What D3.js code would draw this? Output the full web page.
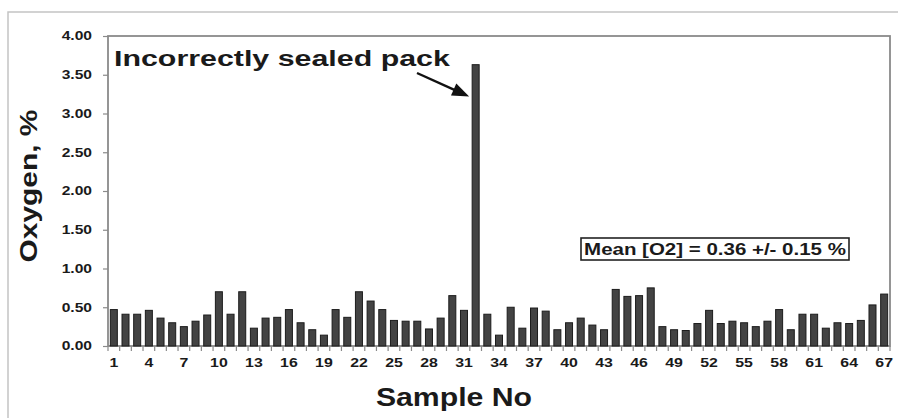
<!DOCTYPE html>
<html>
<head>
<meta charset="utf-8">
<script src="https://cdn.jsdelivr.net/npm/d3@7"></script>
<style>
  html, body { margin: 0; padding: 0; background: #fff; }
  svg { display: block; }
  text { font-family: "Liberation Sans", Arial, Helvetica, sans-serif; font-weight: bold; fill: #1a1a1a; }
</style>
</head>
<body>
<svg id="chart" width="898" height="418"></svg>
<script>
// Oxygen content of each sampled pack, in %
const samples = d3.range(1, 68);
const oxygen = [
  0.47, 0.41, 0.41, 0.46, 0.36, 0.30, 0.25, 0.32, 0.40, 0.70,
  0.41, 0.70, 0.23, 0.36, 0.37, 0.47, 0.30, 0.21, 0.14, 0.47,
  0.37, 0.70, 0.58, 0.47, 0.33, 0.32, 0.32, 0.22, 0.36, 0.65,
  0.46, 3.63, 0.41, 0.14, 0.50, 0.23, 0.49, 0.45, 0.21, 0.30,
  0.36, 0.27, 0.21, 0.73, 0.64, 0.65, 0.75, 0.25, 0.21, 0.20,
  0.29, 0.46, 0.29, 0.32, 0.30, 0.25, 0.32, 0.47, 0.21, 0.41,
  0.41, 0.23, 0.30, 0.29, 0.33, 0.53, 0.67
];
const yTicks = [0, 0.5, 1, 1.5, 2, 2.5, 3, 3.5, 4];
const xTickLabels = d3.range(1, 68, 3);
const annotation = "Incorrectly sealed pack";
const meanText = "Mean [O2] = 0.36 +/- 0.15 %";
const outlier = 32;

const svg = d3.select("#chart");
const plotLeft = 108, plotRight = 890, plotTop = 36, plotBottom = 346;

// stretch a text element horizontally by a width factor
function widen(sel, factor) {
  sel.each(function () {
    const w = this.getComputedTextLength();
    d3.select(this).attr("textLength", w * factor).attr("lengthAdjust", "spacingAndGlyphs");
  });
}

svg.append("rect").attr("width", 898).attr("height", 418).attr("fill", "#fff");

// outer chart frame
svg.append("path")
  .attr("d", "M8,418V12H898")
  .attr("fill", "none").attr("stroke", "#c4c4c4").attr("stroke-width", 1.5);

const y = d3.scaleLinear().domain([0, 4]).range([plotBottom, plotTop]);
const x = d3.scaleBand().domain(samples).range([plotLeft, plotRight])
  .paddingInner(0.4).paddingOuter(0.2);
const edge = d3.scaleLinear().domain([0, samples.length]).range([plotLeft, plotRight]);

// plot border
svg.append("rect")
  .attr("x", plotLeft).attr("y", plotTop)
  .attr("width", plotRight - plotLeft).attr("height", plotBottom - plotTop)
  .attr("fill", "none").attr("stroke", "#8a8a8a").attr("stroke-width", 1.8);

// y axis
const yAxis = svg.append("g")
  .attr("transform", `translate(${plotLeft},0)`)
  .call(d3.axisLeft(y).tickValues(yTicks).tickFormat(d3.format(".2f")).tickSize(5).tickPadding(11));
yAxis.select(".domain").remove();
yAxis.selectAll(".tick line").attr("stroke", "#8a8a8a").attr("stroke-width", 1.2);
yAxis.selectAll(".tick text").attr("font-size", 12).attr("fill", "#1a1a1a")
  .attr("font-family", "Liberation Sans, Arial, sans-serif").attr("font-weight", "bold")
  .call(widen, 1.3);

// x tick marks at band edges
svg.append("g").selectAll("line")
  .data(d3.range(0, samples.length + 1))
  .join("line")
  .attr("x1", d => edge(d)).attr("x2", d => edge(d))
  .attr("y1", plotBottom).attr("y2", plotBottom + 5)
  .attr("stroke", "#8a8a8a").attr("stroke-width", 1.2);

// x tick labels
const xAxis = svg.append("g")
  .attr("transform", `translate(0,${plotBottom})`)
  .call(d3.axisBottom(x).tickValues(xTickLabels).tickSize(0).tickPadding(12));
xAxis.select(".domain").remove();
xAxis.selectAll(".tick text").attr("font-size", 13).attr("fill", "#1a1a1a")
  .attr("font-family", "Liberation Sans, Arial, sans-serif").attr("font-weight", "bold")
  .call(widen, 1.22);

// bars
svg.append("g").selectAll("rect")
  .data(samples)
  .join("rect")
  .attr("x", d => x(d))
  .attr("width", x.bandwidth())
  .attr("y", (d, i) => y(oxygen[i]))
  .attr("height", (d, i) => plotBottom - y(oxygen[i]))
  .attr("fill", "#434343")
  .attr("stroke", "#1c1c1c")
  .attr("stroke-width", 1);

// axis titles
svg.append("text")
  .attr("x", 454).attr("y", 406)
  .attr("text-anchor", "middle").attr("font-size", 25)
  .text("Sample No")
  .call(widen, 162 / 134);

svg.append("text")
  .attr("transform", "translate(37,186) rotate(-90)")
  .attr("text-anchor", "middle").attr("font-size", 23)
  .text("Oxygen, %")
  .call(widen, 1.3);

// annotation for the outlier pack
svg.append("text")
  .attr("x", 114).attr("y", 66)
  .attr("font-size", 22)
  .text(annotation)
  .call(widen, 1.38);

const tipX = x(outlier) - 3, tipY = y(3.22);
const startX = 417, startY = 73;
const dx = tipX - startX, dy = tipY - startY, len = Math.hypot(dx, dy);
const ux = dx / len, uy = dy / len;
const headLen = 17, headHalf = 6.5;
const bx = tipX - ux * headLen, by = tipY - uy * headLen;
svg.append("line")
  .attr("x1", startX).attr("y1", startY).attr("x2", bx + ux * 2).attr("y2", by + uy * 2)
  .attr("stroke", "#111").attr("stroke-width", 2.4);
svg.append("path")
  .attr("d", `M${tipX},${tipY}L${bx - uy * headHalf},${by + ux * headHalf}L${bx + uy * headHalf},${by - ux * headHalf}Z`)
  .attr("fill", "#111");

// mean value box
svg.append("rect")
  .attr("x", 581).attr("y", 238).attr("width", 268).attr("height", 22)
  .attr("fill", "#fff").attr("stroke", "#222").attr("stroke-width", 1.6);
svg.append("text")
  .attr("x", 715).attr("y", 255)
  .attr("text-anchor", "middle").attr("font-size", 16)
  .text(meanText)
  .call(widen, 1.28);
</script>
</body>
</html>
